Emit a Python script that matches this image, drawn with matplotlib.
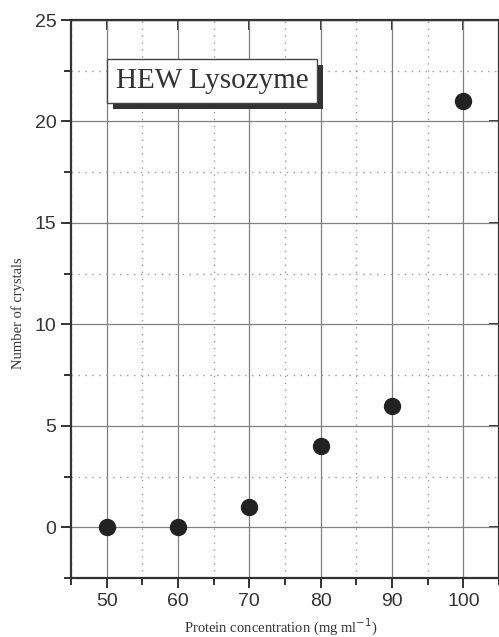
import matplotlib
matplotlib.use("Agg")
import matplotlib.pyplot as plt
from matplotlib.ticker import MultipleLocator
from matplotlib.patches import Rectangle
from matplotlib.transforms import IdentityTransform

# data
concentration = [50, 60, 70, 80, 90, 100]
n_crystals = [0, 0, 1, 4, 6, 21]
x_ticks = [50, 60, 70, 80, 90, 100]
y_ticks = [0, 5, 10, 15, 20, 25]

fig = plt.figure(figsize=(4.99, 6.37), dpi=100)
ax = fig.add_axes([0.1423, 0.0926, 0.8577, 0.876])

ax.plot(concentration, n_crystals, 'o', color='#222222', markersize=11.5, zorder=5)

ax.set_xlim(45, 105)
ax.set_ylim(-2.5, 25)
ax.set_xticks(x_ticks)
ax.set_yticks(y_ticks)
ax.xaxis.set_minor_locator(MultipleLocator(5))
ax.yaxis.set_minor_locator(MultipleLocator(2.5))

ax.grid(which='major', color='#808080', linewidth=0.9, linestyle='-')
ax.grid(which='minor', color='#999999', linewidth=1.0, linestyle=(0, (1, 4)))
ax.set_axisbelow(True)

for s in ax.spines.values():
    s.set_linewidth(1.6)
    s.set_color('#333333')

ax.tick_params(which='both', direction='out', color='#333333', width=1.4,
               labelsize=14, colors='#333333')
ax.tick_params(which='major', length=7)
ax.tick_params(which='minor', length=5)
for lab in ax.get_xticklabels() + ax.get_yticklabels():
    lab.set_family('Liberation Sans')

# inward ticks on top and right
top = ax.secondary_xaxis('top')
top.set_xticks(x_ticks)
top.tick_params(direction='in', length=7, width=1.4, color='#333333', labeltop=False)
right = ax.secondary_yaxis('right')
right.set_yticks(y_ticks)
right.tick_params(direction='in', length=7, width=1.4, color='#333333', labelright=False)

ax.set_xlabel('Protein concentration (mg ml$^{-1}$)', family='Liberation Serif',
              fontsize=10.5, color='#333333')
ax.set_ylabel('Number of crystals', family='Liberation Serif', fontsize=10.5,
              color='#333333')
ax.xaxis.set_label_coords(0.49, -0.07)
ax.yaxis.set_label_coords(-0.108, 0.475)

# title box, shadow added as a patch behind it
title = ax.text(64.8, 22.0, 'HEW Lysozyme', family='Liberation Serif', fontsize=21,
                color='#333333', ha='center', va='center', zorder=7,
                bbox=dict(boxstyle='square,pad=0.3', fc='white', ec='#444444', lw=1.0))
fig.canvas.draw()
bb = title.get_bbox_patch().get_window_extent(fig.canvas.get_renderer())
shadow = Rectangle((bb.x0 + 6, bb.y0 - 6), bb.width, bb.height,
                   transform=IdentityTransform(), fc='#333333', ec='none',
                   zorder=6, clip_on=False)
ax.add_artist(shadow)

fig.savefig('out.png', dpi=100)
